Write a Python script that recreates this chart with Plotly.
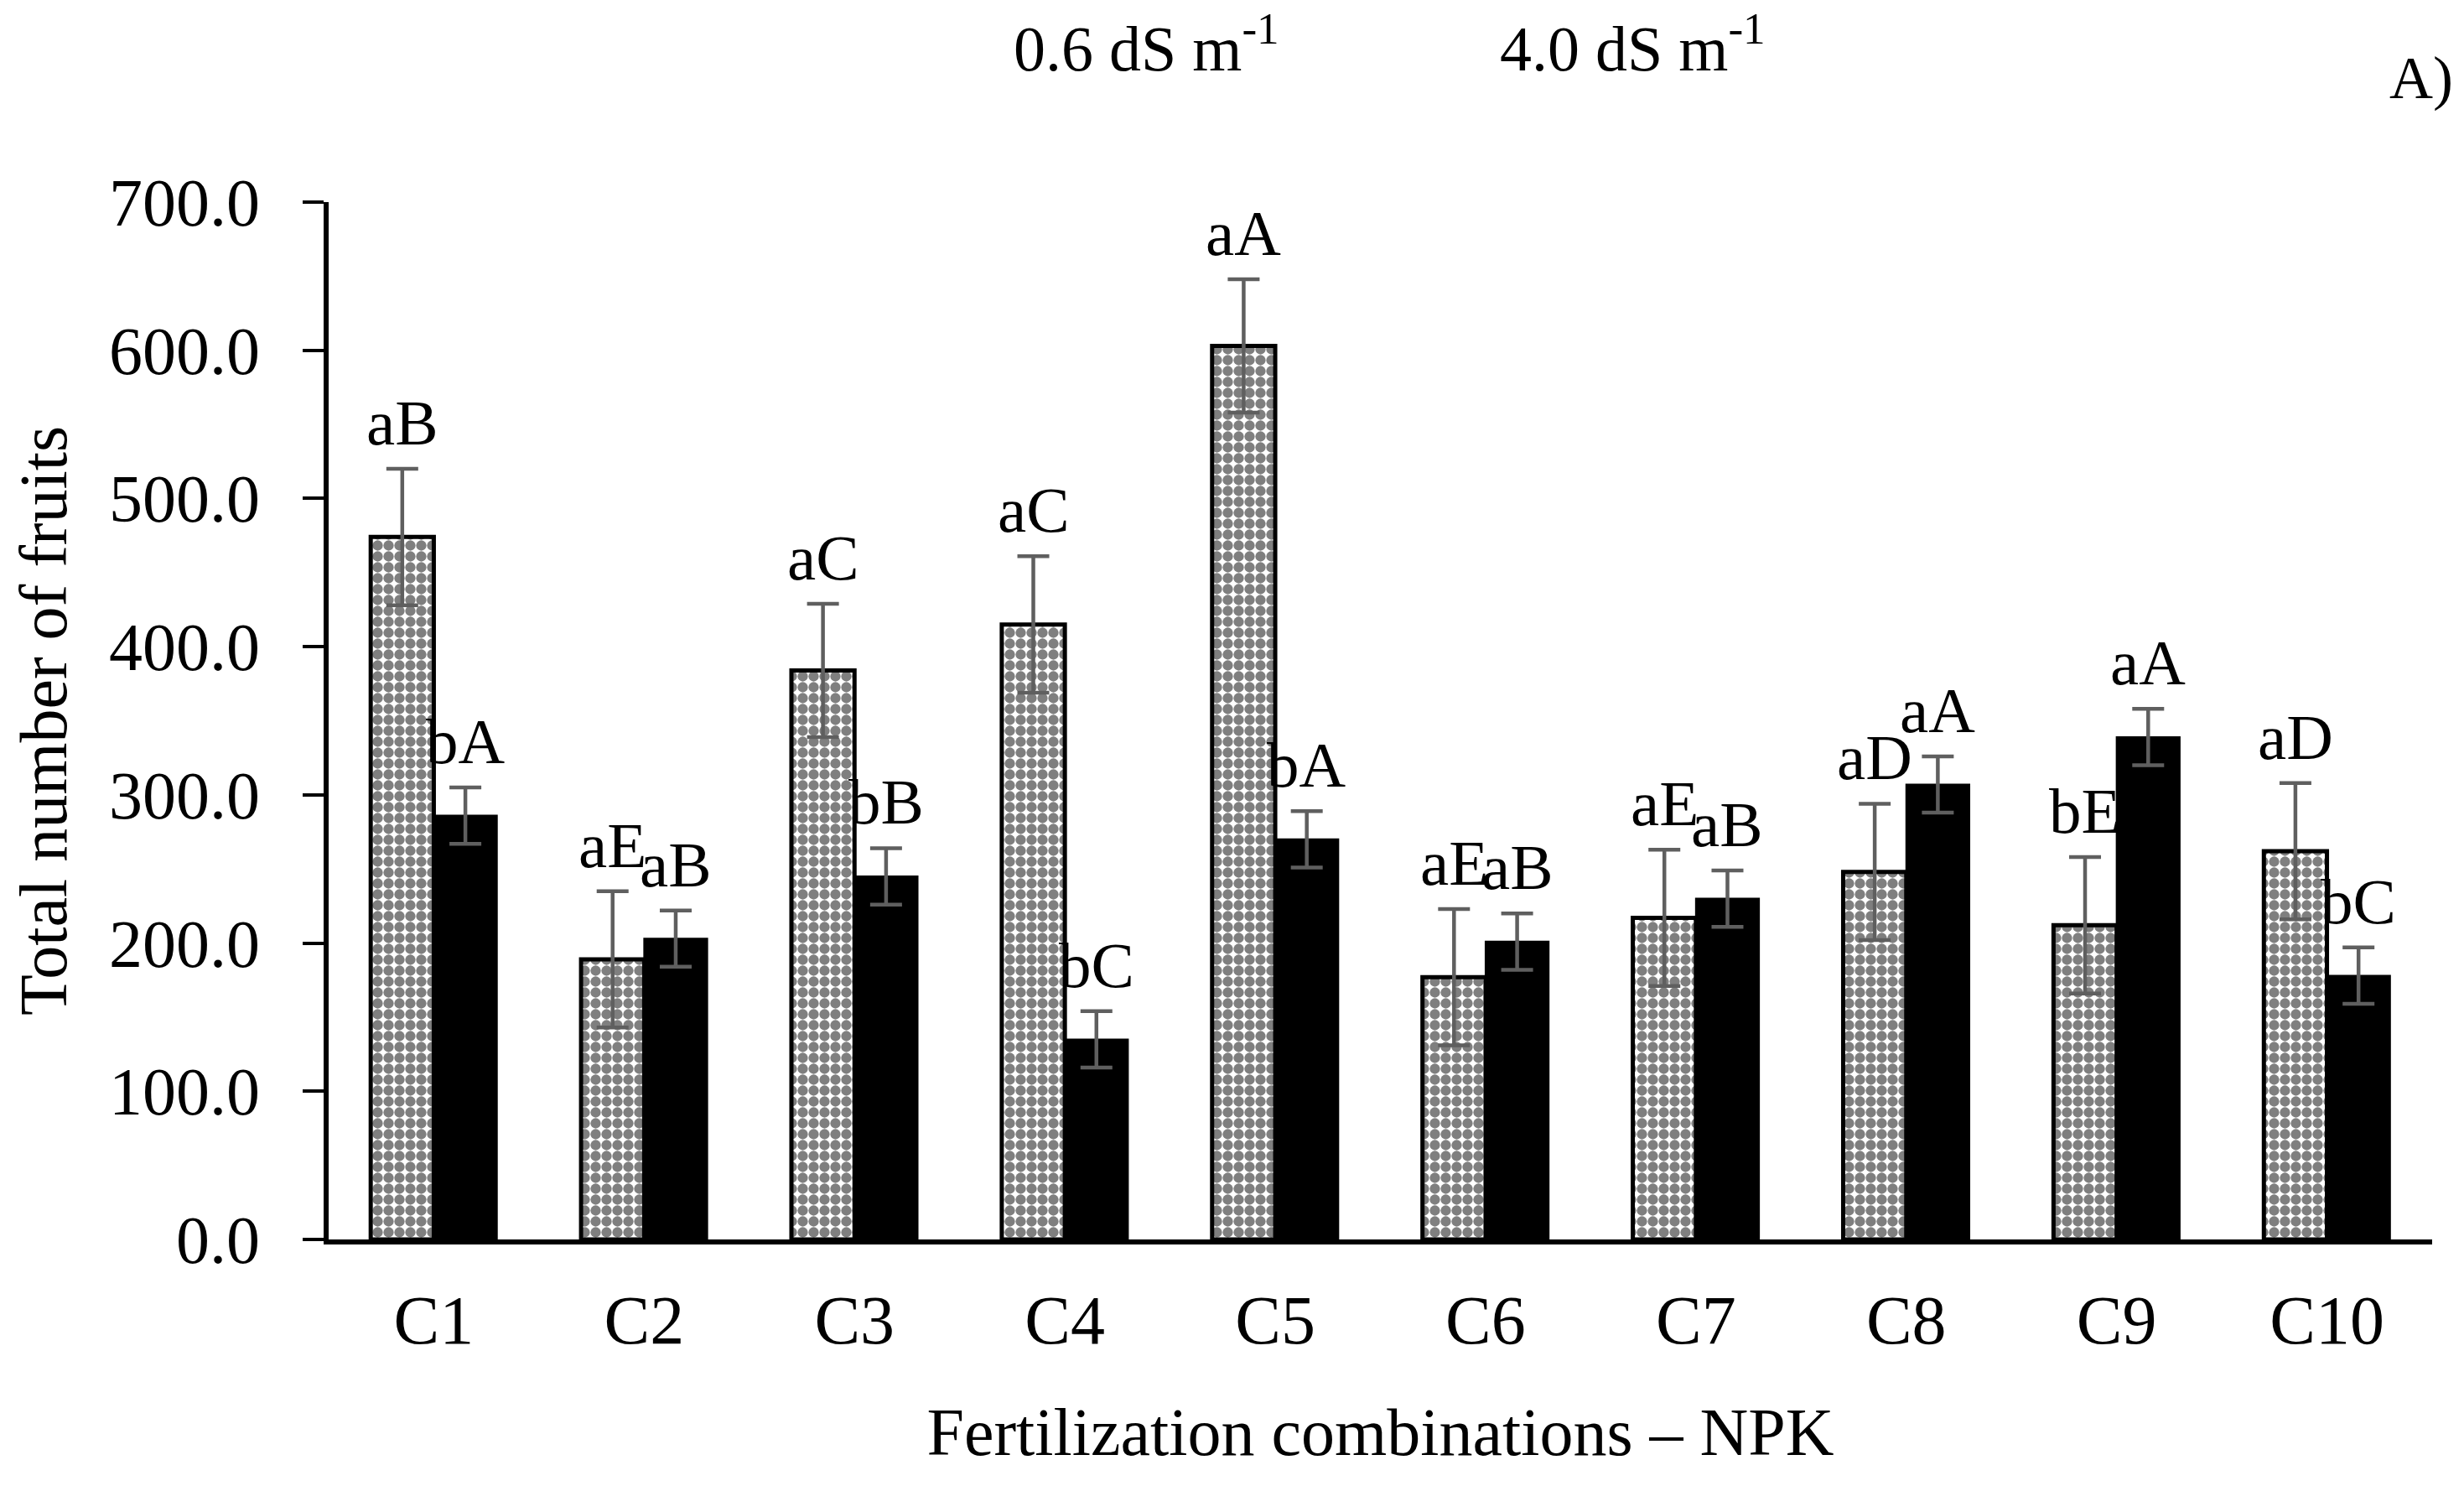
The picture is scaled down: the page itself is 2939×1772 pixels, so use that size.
import plotly.graph_objects as go

# Total number of fruits per NPK combination, two salinity levels
combos = ['C1', 'C2', 'C3', 'C4', 'C5', 'C6', 'C7', 'C8', 'C9', 'C10']
fruits_06 = [474, 189, 384, 415, 603, 177, 217, 248, 212, 262]
fruits_40 = [286, 203, 245, 135, 270, 201, 230, 307, 339, 178]
err_06 = [46, 46, 45, 46, 45, 46, 46, 46, 46, 46]
err_40 = [19, 19, 19, 19, 19, 19, 19, 19, 19, 19]
letters_06 = ['aB', 'aE', 'aC', 'aC', 'aA', 'aE', 'aE', 'aD', 'bE', 'aD']
letters_40 = ['bA', 'aB', 'bB', 'bC', 'bA', 'aB', 'aB', 'aA', 'aA', 'bC']

FONT = 'Liberation Serif'
W, H = 2939, 1772
L, R, T, B = 384, 46, 233, 302

fig = go.Figure()

fig.add_trace(go.Bar(
    x=combos, y=fruits_06, name='0.6 dS m-1',
    marker=dict(color='white',
                line=dict(color='black', width=5),
                pattern=dict(shape='.', fgcolor='black', bgcolor='white',
                             size=13, solidity=0.7)),
    error_y=dict(type='data', array=err_06, color='#5f5f5f',
                 thickness=4.5, width=19),
))
fig.add_trace(go.Bar(
    x=combos, y=fruits_40, name='4.0 dS m-1',
    marker=dict(color='black', line=dict(color='black', width=2)),
    error_y=dict(type='data', array=err_40, color='#5f5f5f',
                 thickness=4.5, width=19),
))

# letters of the mean comparison test above each error bar
cat_px = (W - L - R) / len(combos)
shift = 0.3 * cat_px / 2
for i, c in enumerate(combos):
    for val, err, txt, dx in [(fruits_06[i], err_06[i], letters_06[i], -shift),
                              (fruits_40[i], err_40[i], letters_40[i], shift)]:
        fig.add_annotation(x=c, y=val + err, text=txt, showarrow=False,
                           xshift=dx, yanchor='bottom', yshift=10,
                           font=dict(family=FONT, size=77, color='black'))

# legend text (no swatches in the original) and panel label
fig.add_annotation(x=0.325, y=1.152, xref='paper', yref='paper',
                   xanchor='left', yanchor='middle',
                   text='0.6 dS m<sup>-1</sup>', showarrow=False,
                   font=dict(family=FONT, size=76, color='black'))
fig.add_annotation(x=0.556, y=1.152, xref='paper', yref='paper',
                   xanchor='left', yanchor='middle',
                   text='4.0 dS m<sup>-1</sup>', showarrow=False,
                   font=dict(family=FONT, size=76, color='black'))
fig.add_annotation(x=1.0107, y=1.12, xref='paper', yref='paper',
                   xanchor='right', yanchor='middle',
                   text='A)', showarrow=False,
                   font=dict(family=FONT, size=72, color='black'))

fig.update_layout(
    width=W, height=H,
    margin=dict(l=L, r=R, t=T, b=B),
    paper_bgcolor='white', plot_bgcolor='white',
    barmode='group', bargap=0.4, bargroupgap=0,
    showlegend=False,
    font=dict(family=FONT, size=80, color='black'),
)
fig.update_yaxes(
    range=[0, 700], dtick=100, tickformat='.1f',
    showgrid=False, zeroline=False,
    showline=True, linecolor='black', linewidth=6,
    ticks='outside', ticklen=25, tickwidth=4, tickcolor='black',
    ticklabelstandoff=35,
    tickfont=dict(family=FONT, size=80),
    title=dict(text='Total number of fruits', standoff=45,
               font=dict(family=FONT, size=80)),
)
fig.update_xaxes(
    showgrid=False, showline=True, linecolor='black', linewidth=6,
    ticks='', ticklabelstandoff=20,
    tickfont=dict(family=FONT, size=82),
    title=dict(text='Fertilization combinations – NPK', standoff=62,
               font=dict(family=FONT, size=80)),
)

fig.write_html('out.html')
